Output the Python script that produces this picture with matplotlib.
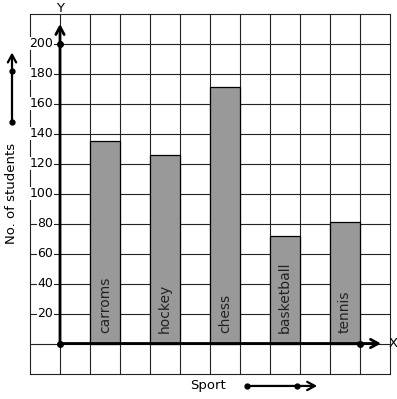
import matplotlib
matplotlib.use("Agg")
import matplotlib.pyplot as plt

# data
sports = ["carroms", "hockey", "chess", "basketball", "tennis"]
students = [135, 126, 171, 72, 81]
y_ticks = [20, 40, 60, 80, 100, 120, 140, 160, 180, 200]

fig = plt.figure(figsize=(3.97, 3.99), dpi=100)
ax = fig.add_axes([0, 0, 1, 1])
ax.set_xlim(-2, 337 / 30)
ax.set_ylim(-37, 229)
ax.axis("off")

# graph paper grid
for gx in range(-1, 12):
    ax.plot([gx, gx], [-20, 220], color="#222222", lw=0.8, zorder=1)
for gy in range(-20, 221, 20):
    ax.plot([-1, 11], [gy, gy], color="#222222", lw=0.8, zorder=1)

# bars, one grid cell wide, every other cell
xs = [1.5 + 2 * i for i in range(len(sports))]
ax.bar(xs, students, width=1, color="#999999", edgecolor="black", lw=0.9, zorder=2)
for x, name in zip(xs, sports):
    ax.text(x, 7, name, rotation=90, ha="center", va="bottom",
            fontsize=10, color="#222222", zorder=3)

# y tick labels
for v in y_ticks:
    ax.text(-0.22, v, str(v), ha="right", va="center", fontsize=9,
            bbox=dict(facecolor="white", edgecolor="none", pad=0.3), zorder=3)

# axes with arrows
arr = dict(arrowstyle="->,head_length=0.55,head_width=0.3", lw=2,
           color="black", shrinkA=0, shrinkB=0)
ax.annotate("", xy=(10.7, 0), xytext=(0, 0), arrowprops=arr, zorder=4)
ax.annotate("", xy=(0, 213), xytext=(0, 0), arrowprops=arr, zorder=4)
ax.plot([0, 0, 10], [0, 200, 0], "o", color="black", ms=4, zorder=5)
ax.text(10.95, 0, "X", ha="left", va="center", fontsize=9.5)
ax.text(0, 223, "Y", ha="center", va="center", fontsize=9.5)

# axis titles with little arrows
arr2 = dict(arrowstyle="->,head_length=0.55,head_width=0.3", lw=1.6,
            color="black", shrinkA=0, shrinkB=0)
ax.annotate("", xy=(-1.6, 194), xytext=(-1.6, 148), arrowprops=arr2)
ax.plot([-1.6, -1.6], [148, 181.7], "o", color="black", ms=3.5)
ax.text(-1.6, 100, "No. of students", rotation=90, ha="center", va="center", fontsize=9.5)

ax.annotate("", xy=(8.57, -28.3), xytext=(6.23, -28.3), arrowprops=arr2)
ax.plot([6.23, 7.9], [-28.3, -28.3], "o", color="black", ms=3.5)
ax.text(4.93, -27.7, "Sport", ha="center", va="center", fontsize=9.5)

fig.savefig("out.png", dpi=100)
